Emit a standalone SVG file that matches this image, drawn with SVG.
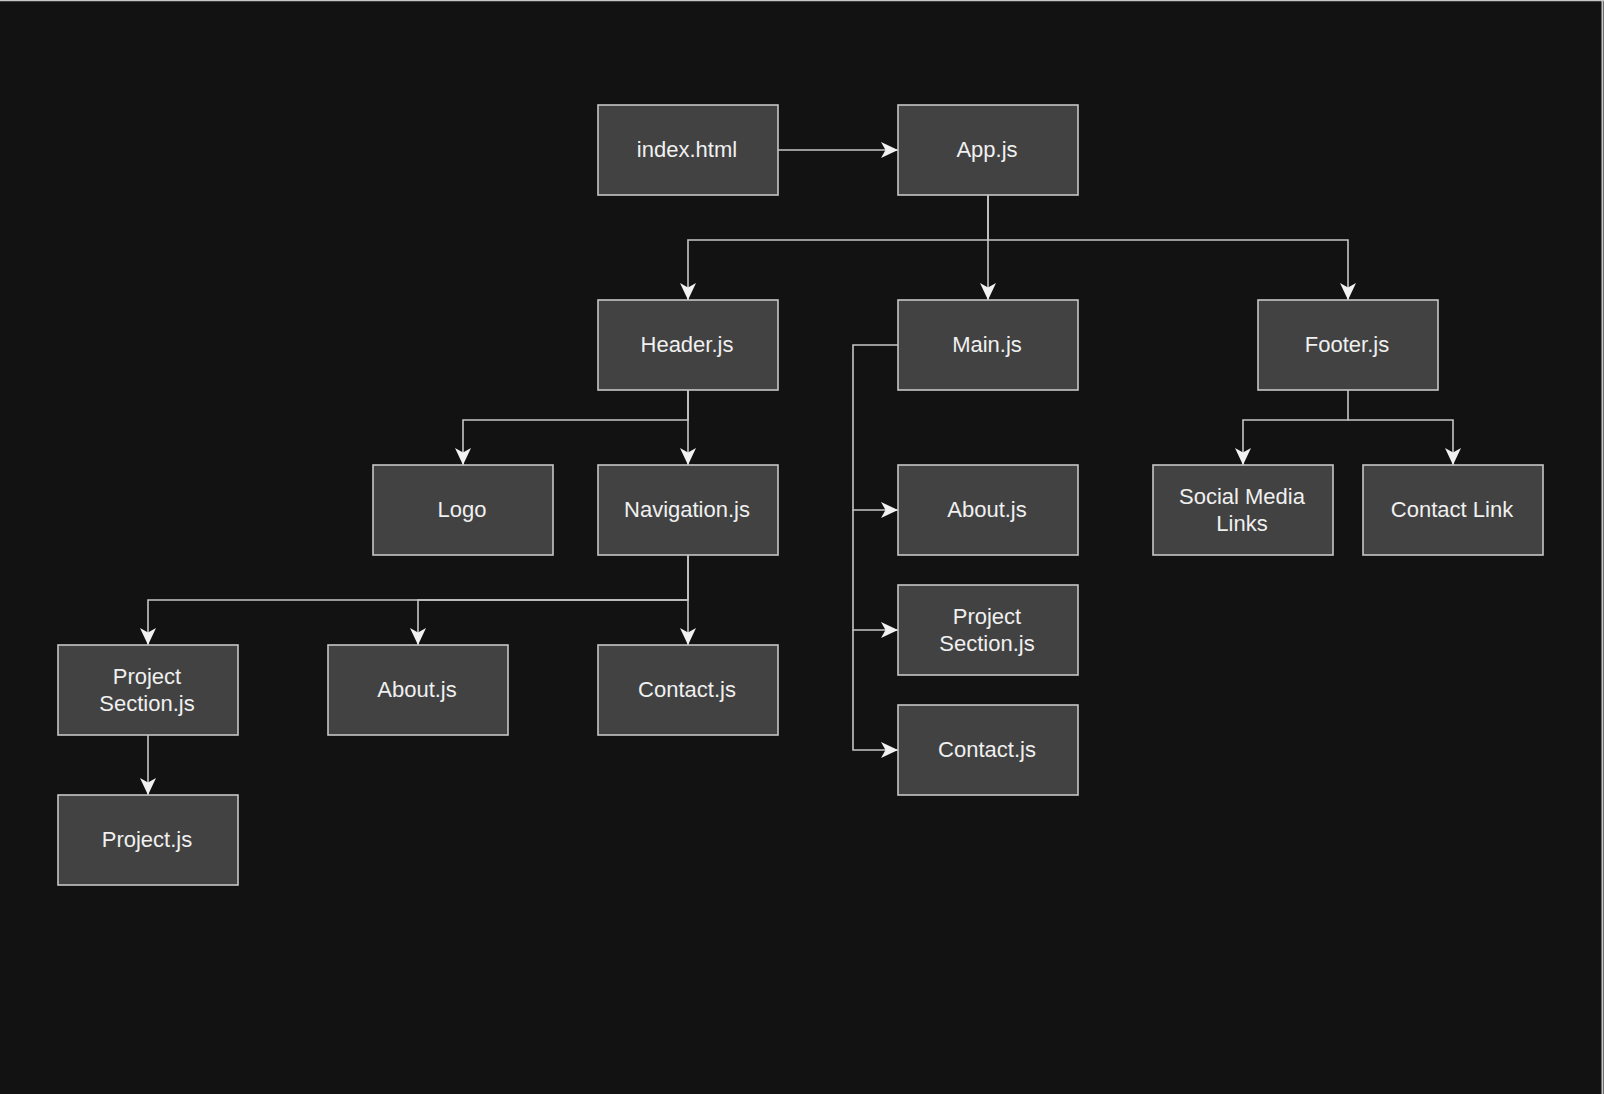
<svg xmlns="http://www.w3.org/2000/svg" width="1604" height="1094" viewBox="0 0 1604 1094">
  <defs>
    <style>
      .node rect { fill: #424242; stroke: #c6c6c6; stroke-width: 1.6; }
      .node text { fill: #f0f0f0; font-family: "Liberation Sans", Arial, Helvetica, sans-serif; font-size: 22px; text-anchor: middle; }
      .edge { fill: none; stroke: #c6c6c6; stroke-width: 1.6; marker-end: url(#arrow); }
    </style>
    <marker id="arrow" markerUnits="userSpaceOnUse" markerWidth="19" markerHeight="18" viewBox="-18 -9 19 18" refX="0" refY="0" orient="auto">
      <path d="M0,0 L-17,-8 L-12.5,0 L-17,8 Z" fill="#f2f2f2"/>
    </marker>
  </defs>

  <!-- canvas -->
  <rect x="0" y="0" width="1604" height="1094" fill="#121212"/>
  <line x1="0" y1="0.5" x2="1604" y2="0.5" stroke="#c8c8c8" stroke-width="1.5"/>
  <line x1="1602.5" y1="0" x2="1602.5" y2="1094" stroke="#c8c8c8" stroke-width="2"/>

  <!-- connectors -->
  <g id="connectors">
    <path class="edge" d="M778,150 H898"/>
    <path class="edge" d="M988,195 V240 H688 V300"/>
    <path class="edge" d="M988,195 V300"/>
    <path class="edge" d="M988,240 H1348 V300"/>
    <path class="edge" d="M688,390 V420 H463 V465"/>
    <path class="edge" d="M688,390 V465"/>
    <path class="edge" d="M898,345 H853 V510 H898"/>
    <path class="edge" d="M853,510 V630 H898"/>
    <path class="edge" d="M853,630 V750 H898"/>
    <path class="edge" d="M1348,390 V420 H1243 V465"/>
    <path class="edge" d="M1348,420 H1453 V465"/>
    <path class="edge" d="M688,555 V600 H148 V645"/>
    <path class="edge" d="M688,600 H418 V645"/>
    <path class="edge" d="M688,555 V645"/>
    <path class="edge" d="M148,735 V795"/>
  </g>

  <!-- nodes -->
  <g id="index-html" class="node">
    <rect x="598" y="105" width="180" height="90"/>
    <text x="687" y="157">index.html</text>
  </g>
  <g id="app-js" class="node">
    <rect x="898" y="105" width="180" height="90"/>
    <text x="987" y="157">App.js</text>
  </g>
  <g id="header-js" class="node">
    <rect x="598" y="300" width="180" height="90"/>
    <text x="687" y="352">Header.js</text>
  </g>
  <g id="main-js" class="node">
    <rect x="898" y="300" width="180" height="90"/>
    <text x="987" y="352">Main.js</text>
  </g>
  <g id="footer-js" class="node">
    <rect x="1258" y="300" width="180" height="90"/>
    <text x="1347" y="352">Footer.js</text>
  </g>
  <g id="logo" class="node">
    <rect x="373" y="465" width="180" height="90"/>
    <text x="462" y="517">Logo</text>
  </g>
  <g id="navigation-js" class="node">
    <rect x="598" y="465" width="180" height="90"/>
    <text x="687" y="517">Navigation.js</text>
  </g>
  <g id="main-about-js" class="node">
    <rect x="898" y="465" width="180" height="90"/>
    <text x="987" y="517">About.js</text>
  </g>
  <g id="main-project-section-js" class="node">
    <rect x="898" y="585" width="180" height="90"/>
    <text x="987" y="624">Project</text>
    <text x="987" y="651">Section.js</text>
  </g>
  <g id="main-contact-js" class="node">
    <rect x="898" y="705" width="180" height="90"/>
    <text x="987" y="757">Contact.js</text>
  </g>
  <g id="social-media-links" class="node">
    <rect x="1153" y="465" width="180" height="90"/>
    <text x="1242" y="504">Social Media</text>
    <text x="1242" y="531">Links</text>
  </g>
  <g id="contact-link" class="node">
    <rect x="1363" y="465" width="180" height="90"/>
    <text x="1452" y="517">Contact Link</text>
  </g>
  <g id="nav-project-section-js" class="node">
    <rect x="58" y="645" width="180" height="90"/>
    <text x="147" y="684">Project</text>
    <text x="147" y="711">Section.js</text>
  </g>
  <g id="nav-about-js" class="node">
    <rect x="328" y="645" width="180" height="90"/>
    <text x="417" y="697">About.js</text>
  </g>
  <g id="nav-contact-js" class="node">
    <rect x="598" y="645" width="180" height="90"/>
    <text x="687" y="697">Contact.js</text>
  </g>
  <g id="project-js" class="node">
    <rect x="58" y="795" width="180" height="90"/>
    <text x="147" y="847">Project.js</text>
  </g>
</svg>
